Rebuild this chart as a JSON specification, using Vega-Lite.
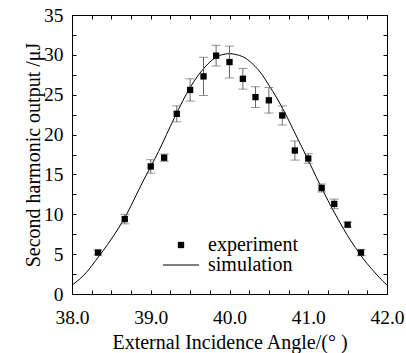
{
  "$schema": "https://vega.github.io/schema/vega-lite/v6.json",
  "width": 315,
  "height": 279,
  "autosize": "none",
  "padding": {"left": 72, "top": 15, "right": 19, "bottom": 59},
  "background": "white",
  "config": {
    "font": "Liberation Serif, DejaVu Serif, serif",
    "view": {"stroke": "black", "strokeWidth": 1},
    "axis": {
      "labelFont": "Liberation Serif, DejaVu Serif, serif",
      "titleFont": "Liberation Serif, DejaVu Serif, serif",
      "labelFontSize": 19.5,
      "titleFontSize": 20,
      "labelColor": "black",
      "titleColor": "black",
      "titleFontWeight": "normal",
      "tickColor": "black",
      "domainColor": "black",
      "tickSize": -4,
      "grid": false,
      "labelFlush": false,
      "labelOverlap": false
    },
    "legend": {
      "labelFont": "Liberation Serif, DejaVu Serif, serif",
      "labelFontSize": 20,
      "labelColor": "black"
    }
  },
  "datasets": {
    "experiment": [
      {"angle": 38.33, "output": 5.2, "err": 0.3, "series": "experiment"},
      {"angle": 38.67, "output": 9.4, "err": 0.6, "series": "experiment"},
      {"angle": 39.0, "output": 16.0, "err": 0.85, "series": "experiment"},
      {"angle": 39.17, "output": 17.1, "err": 0.45, "series": "experiment"},
      {"angle": 39.33, "output": 22.6, "err": 1.0, "series": "experiment"},
      {"angle": 39.5, "output": 25.6, "err": 1.4, "series": "experiment"},
      {"angle": 39.67, "output": 27.3, "err": 2.4, "series": "experiment"},
      {"angle": 39.83, "output": 29.9, "err": 1.3, "series": "experiment"},
      {"angle": 40.0, "output": 29.1, "err": 2.0, "series": "experiment"},
      {"angle": 40.17, "output": 27.0, "err": 1.3, "series": "experiment"},
      {"angle": 40.33, "output": 24.7, "err": 1.3, "series": "experiment"},
      {"angle": 40.5, "output": 24.3, "err": 1.6, "series": "experiment"},
      {"angle": 40.67, "output": 22.4, "err": 1.2, "series": "experiment"},
      {"angle": 40.83, "output": 18.0, "err": 1.2, "series": "experiment"},
      {"angle": 41.0, "output": 17.0, "err": 0.6, "series": "experiment"},
      {"angle": 41.17, "output": 13.3, "err": 0.5, "series": "experiment"},
      {"angle": 41.33, "output": 11.3, "err": 0.6, "series": "experiment"},
      {"angle": 41.5, "output": 8.7, "err": 0.3, "series": "experiment"},
      {"angle": 41.67, "output": 5.2, "err": 0.4, "series": "experiment"}
    ],
    "simulation": [
      {"angle": 38.0, "output": 1.1},
      {"angle": 38.1, "output": 1.9},
      {"angle": 38.2, "output": 2.9},
      {"angle": 38.3, "output": 4.2},
      {"angle": 38.4, "output": 5.5},
      {"angle": 38.5, "output": 6.9},
      {"angle": 38.6, "output": 8.4},
      {"angle": 38.7, "output": 10.1},
      {"angle": 38.8, "output": 12.1},
      {"angle": 38.9, "output": 14.1},
      {"angle": 39.0, "output": 16.0},
      {"angle": 39.1, "output": 17.9},
      {"angle": 39.2, "output": 20.0},
      {"angle": 39.3, "output": 22.1},
      {"angle": 39.4, "output": 24.1},
      {"angle": 39.5, "output": 25.9},
      {"angle": 39.6, "output": 27.4},
      {"angle": 39.7, "output": 28.6},
      {"angle": 39.8, "output": 29.5},
      {"angle": 39.9, "output": 30.0},
      {"angle": 40.0, "output": 30.15},
      {"angle": 40.1, "output": 30.0},
      {"angle": 40.2, "output": 29.6},
      {"angle": 40.3, "output": 28.8},
      {"angle": 40.4, "output": 27.7},
      {"angle": 40.5, "output": 26.2},
      {"angle": 40.6, "output": 24.6},
      {"angle": 40.7, "output": 22.8},
      {"angle": 40.8, "output": 20.8},
      {"angle": 40.9, "output": 18.8},
      {"angle": 41.0, "output": 16.8},
      {"angle": 41.1, "output": 14.7},
      {"angle": 41.2, "output": 12.7},
      {"angle": 41.3, "output": 10.8},
      {"angle": 41.4, "output": 9.0},
      {"angle": 41.5, "output": 7.3},
      {"angle": 41.6, "output": 5.8},
      {"angle": 41.7, "output": 4.4},
      {"angle": 41.8, "output": 3.2},
      {"angle": 41.9, "output": 2.1},
      {"angle": 42.0, "output": 1.1}
    ]
  },
  "layer": [
    {
      "data": {"name": "simulation"},
      "mark": {"type": "line", "color": "black", "strokeWidth": 1, "interpolate": "monotone"},
      "encoding": {
        "x": {
          "field": "angle", "type": "quantitative",
          "scale": {"domain": [38, 42], "nice": false, "zero": false},
          "axis": {
            "orient": "bottom",
            "title": "External Incidence Angle/(° )",
            "values": [38, 38.25, 38.5, 38.75, 39, 39.25, 39.5, 39.75, 40, 40.25, 40.5, 40.75, 41, 41.25, 41.5, 41.75, 42],
            "labelExpr": "datum.value % 1 === 0 ? format(datum.value, '.1f') : ''",
            "labelPadding": 18,
            "titlePadding": 6
          }
        },
        "y": {
          "field": "output", "type": "quantitative",
          "scale": {"domain": [0, 35], "nice": false},
          "axis": {
            "orient": "left",
            "title": "Second harmonic output /μJ",
            "values": [0, 2.5, 5, 7.5, 10, 12.5, 15, 17.5, 20, 22.5, 25, 27.5, 30, 32.5, 35],
            "labelExpr": "datum.value % 5 === 0 ? format(datum.value, 'd') : ''",
            "labelPadding": 13,
            "titlePadding": 0
          }
        }
      }
    },
    {
      "data": {"name": "experiment"},
      "mark": {"type": "errorbar", "color": "#666666", "thickness": 1, "ticks": {"size": 9, "thickness": 1, "color": "#666666"}},
      "encoding": {
        "x": {"field": "angle", "type": "quantitative", "axis": null},
        "y": {"field": "output", "type": "quantitative", "axis": null},
        "yError": {"field": "err"}
      }
    },
    {
      "data": {"name": "experiment"},
      "mark": {"type": "point", "filled": true, "color": "black", "opacity": 1, "size": 40},
      "encoding": {
        "x": {
          "field": "angle", "type": "quantitative",
          "axis": {
            "orient": "top", "title": null, "labels": false,
            "values": [38, 38.25, 38.5, 38.75, 39, 39.25, 39.5, 39.75, 40, 40.25, 40.5, 40.75, 41, 41.25, 41.5, 41.75, 42]
          }
        },
        "y": {
          "field": "output", "type": "quantitative",
          "axis": {
            "orient": "right", "title": null, "labels": false,
            "values": [0, 2.5, 5, 7.5, 10, 12.5, 15, 17.5, 20, 22.5, 25, 27.5, 30, 32.5, 35]
          }
        },
        "shape": {
          "field": "series", "type": "nominal",
          "scale": {"domain": ["experiment", "simulation"], "range": ["square", "M-5.7,-0.16L5.7,-0.16L5.7,0.16L-5.7,0.16Z"]},
          "legend": {
            "title": null,
            "orient": "none",
            "legendX": 99,
            "legendY": 220,
            "padding": 0,
            "symbolSize": 40,
            "labelOffset": 17,
            "rowPadding": -9,
            "symbolFillColor": "black",
            "symbolStrokeColor": "black",
            "symbolStrokeWidth": 0,
            "encode": {"symbols": {"update": {"fill": {"value": "black"}, "opacity": {"value": 1}, "fillOpacity": {"value": 1}}}}
          }
        }
      }
    }
  ],
  "resolve": {"axis": {"x": "independent", "y": "independent"}}
}
